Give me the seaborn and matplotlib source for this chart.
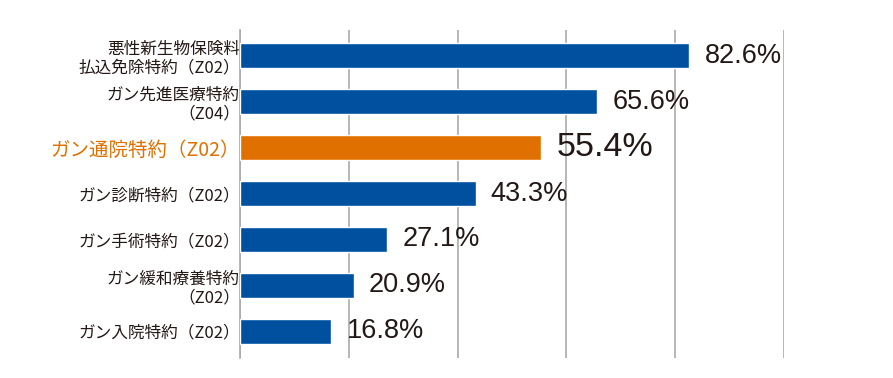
import matplotlib
matplotlib.use("Agg")
import matplotlib.pyplot as plt
import seaborn as sns

# data
labels = [
    "悪性新生物保険料\n払込免除特約（Z02）",
    "ガン先進医療特約\n（Z04）",
    "ガン通院特約（Z02）",
    "ガン診断特約（Z02）",
    "ガン手術特約（Z02）",
    "ガン緩和療養特約\n（Z02）",
    "ガン入院特約（Z02）",
]
values = [82.6, 65.6, 55.4, 43.3, 27.1, 20.9, 16.8]
highlight = 2
x_ticks = [0, 20, 40, 60, 80, 100]

BLUE = "#0050A0"
ORANGE = "#E07000"
TEXT = "#231815"
GRID = "#AAAAAA"

sns.set_style("white")
plt.rcParams["font.family"] = ["Noto Sans CJK JP", "DejaVu Sans"]

fig = plt.figure(figsize=(8.93, 3.78), dpi=100)
ax = fig.add_axes([240 / 893, 20 / 378, 544 / 893, 328 / 378])

palette = {lab: (ORANGE if i == highlight else BLUE) for i, lab in enumerate(labels)}
sns.barplot(x=values, y=labels, hue=labels, palette=palette, legend=False,
            orient="h", width=0.55, saturation=1, ax=ax, zorder=3)

ax.set_xlim(0, 100)
ax.set_ylim(6.58, -0.56)
ax.set_xticks(x_ticks)
ax.set_xticklabels([])
ax.tick_params(axis="x", length=0)
ax.tick_params(axis="y", length=0, pad=0)
ax.xaxis.grid(True, color=GRID, linewidth=1.2, zorder=0)
ax.yaxis.grid(False)
ax.set_axisbelow(True)
for side in ["top", "right", "bottom"]:
    ax.spines[side].set_visible(False)
ax.spines["left"].set_color(GRID)
ax.spines["left"].set_linewidth(1.2)
ax.set_xlabel("")
ax.set_ylabel("")

for i, tl in enumerate(ax.get_yticklabels()):
    tl.set_horizontalalignment("right")
    tl.set_multialignment("right")
    tl.set_linespacing(1.12)
    if i == highlight:
        tl.set_color(ORANGE)
        tl.set_fontsize(14)
    else:
        tl.set_color(TEXT)
        tl.set_fontsize(12)

for i, v in enumerate(values):
    big = i == highlight
    ax.annotate(f"{v}%", xy=(v, i), xytext=(11, 0), textcoords="offset points",
                ha="left", va="center", color=TEXT,
                fontsize=24.5 if big else 19.5,
                family=["Liberation Sans", "DejaVu Sans"])

fig.savefig("out.png", dpi=100)
